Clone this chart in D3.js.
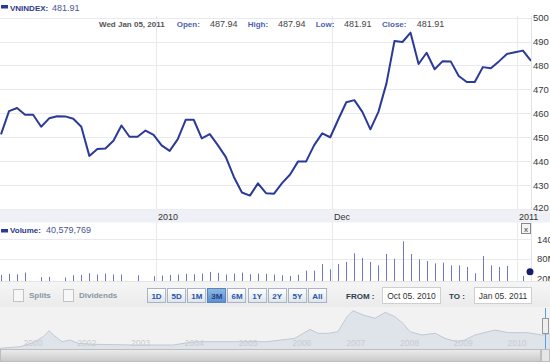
<!DOCTYPE html>
<html><head><meta charset="utf-8">
<script src="https://cdn.jsdelivr.net/npm/d3@7"></script>
<style>
body{margin:0;background:#fff;overflow:hidden;}
svg{display:block;font-family:"Liberation Sans",Arial,sans-serif;}
</style>
</head><body><svg id="c" width="550" height="364"></svg>
<script>
// ---------------- DATA ----------------
const symbol = "VNINDEX";
const lastDate = "Wed Jan 05, 2011";
const quote = {open: "487.94", high: "487.94", low: "481.91", close: "481.91"};
const volumeText = "40,579,769";
// daily closes, Oct 05 2010 .. Jan 05 2011 (67 sessions)
const closes = [451.2,460.9,462.2,459.4,459.4,454.4,457.9,458.8,458.7,457.7,
  454.4,442.2,445.1,445.3,448.5,454.9,450.2,450.2,452.8,451.0,
  446.6,444.3,449.1,457.3,457.3,449.5,451.3,446.7,441.7,433.4,
  426.9,425.6,430.7,426.6,426.4,430.8,434.4,439.9,439.9,446.7,
  451.6,450.0,457.4,464.6,465.5,460.6,453.3,460.6,472.5,490.2,
  489.8,493.7,480.6,485.3,478.4,481.8,481.7,475.6,473.1,473.1,
  479.3,478.8,481.7,484.8,485.5,486.2,481.91];
// daily volume, millions of shares
const volumes = [31,34,33,38,0,24,25,0,23,30,
  31,36,32,35,32,32,0,30,0,27,
  29,31,32,34,33,35,40,37,32,35,
  38,33,35,34,32,30,27.6,31.5,43.7,43.7,
  64,48,64,70,96.6,82.3,70,60,94.5,80,
  133,94.5,78.4,73,66,68,60,60,55,35.8,
  88.4,60,55,58,0,27.6,40.58];
const xTickIndex = [19, 41, 64];
const xTickLabels = ["2010", "Dec", "2011"];
const priceTicks = [420,430,440,450,460,470,480,490,500];
const volTicks = [20, 80, 140];
const volTickLabels = ["20M", "80M", "140M"];
// navigator (full history)
const navYears = [2000.39,2000.76,2001.0,2001.19,2001.30,2001.38,2001.54,2001.69,2001.84,2002.12,
  2002.86,2003.61,2003.87,2004.11,2004.72,2005.35,2005.50,2005.87,2006.15,2006.30,
  2006.49,2006.67,2006.84,2006.95,2007.14,2007.36,2007.55,2007.73,2007.88,2008.01,
  2008.23,2008.48,2008.66,2008.88,2009.03,2009.22,2009.59,2009.84,2010.20,2010.46,2010.62];
const navValues = [50,96,213,389,565,439,243,293,196,167,
  146,146,213,243,243,243,272,342,605,488,
  488,536,975,1150,1024,927,1103,975,780,536,
  439,488,342,243,293,439,585,507,507,439,470];
const navTickYears = [2001,2002,2003,2004,2005,2006,2007,2008,2009,2010];
const navTickLabels = ["2000","2002","2003","2004","2005","2006","2007","2008","2009","2010"];
const rangeButtons = ["1D","5D","1M","3M","6M","1Y","2Y","5Y","All"];
const selectedRange = "3M";
const fromDate = "Oct 05. 2010";
const toDate = "Jan 05. 2011";

// ---------------- DRAW ----------------
const svg = d3.select("#c");
const W = 550;
const plotR = 531;
const x = d3.scaleLinear().domain([0, closes.length - 1]).range([1, plotR]);
const y = d3.scaleLinear().domain([420, 500]).range([209, 17.6]);
const yv = d3.scaleLinear().domain([20, 140]).range([278.5, 239]);
const lineBlue = "#2b3a98";
const gridC = "#e9eaf0";

const defs = svg.append("defs");
defs.append("clipPath").attr("id","pc").append("rect").attr("x",0).attr("y",10).attr("width",plotR).attr("height",199);
defs.append("clipPath").attr("id","vc").append("rect").attr("x",0).attr("y",236).attr("width",plotR+1).attr("height",45);
defs.append("clipPath").attr("id","nc").append("rect").attr("x",0).attr("y",307).attr("width",W).attr("height",42);
function grad(id, c0, c1) {
  const g = defs.append("linearGradient").attr("id",id).attr("x1",0).attr("y1",0).attr("x2",0).attr("y2",1);
  g.append("stop").attr("offset","0").attr("stop-color",c0);
  g.append("stop").attr("offset","1").attr("stop-color",c1);
}
grad("btn", "#ffffff", "#dfe3ea");
grad("btnSel", "#8fb8e6", "#5b8fd0");
grad("scr", "#ececec", "#c9c9c9");
grad("ctl", "#f6f6f6", "#ebebeb");

// price grid
svg.append("g").selectAll("line").data(priceTicks).join("line")
  .attr("x1", 0).attr("x2", plotR).attr("y1", d => Math.round(y(d))+0.5).attr("y2", d => Math.round(y(d))+0.5)
  .attr("stroke", gridC).attr("stroke-width", 1);
svg.append("g").selectAll("line").data(xTickIndex).join("line")
  .attr("x1", d => Math.round(x(d+0.28))+0.5).attr("x2", d => Math.round(x(d+0.28))+0.5)
  .attr("y1", 16).attr("y2", 281).attr("stroke", gridC);
svg.append("line").attr("x1",plotR+0.5).attr("x2",plotR+0.5).attr("y1",16).attr("y2",281).attr("stroke","#e2e3ea");

// header
svg.append("rect").attr("x",1).attr("y",5).attr("width",7).attr("height",3.5).attr("fill",lineBlue);
svg.append("text").attr("x",10).attr("y",10.5).text(symbol + ":").attr("font-size",8).attr("font-weight","bold").attr("fill","#2b3a8a");
svg.append("text").attr("x",52).attr("y",10.5).text(closes[closes.length-1].toFixed(2)).attr("font-size",9).attr("fill","#4a5590");

const row = svg.append("g").attr("font-size", 8);
row.append("text").attr("x",99).attr("y",26.5).text(lastDate).attr("font-weight","bold").attr("fill","#555");
const fields = [["Open:", quote.open, 176.7, 210], ["High:", quote.high, 247.7, 278], ["Low:", quote.low, 315.7, 344], ["Close:", quote.close, 382, 416.7]];
fields.forEach(f => {
  row.append("text").attr("x",f[2]).attr("y",26.5).text(f[0]).attr("font-weight","bold").attr("fill","#4d5fb0");
  row.append("text").attr("x",f[3]).attr("y",26.5).text(f[1]).attr("font-size",9).attr("fill","#444");
});

// price line
svg.append("path").datum(closes).attr("clip-path","url(#pc)")
  .attr("d", d3.line().x((d,i) => x(i)).y(d => y(d)))
  .attr("fill","none").attr("stroke",lineBlue).attr("stroke-width",2).attr("stroke-linejoin","round");

// x axis band
svg.append("rect").attr("x",0).attr("y",209.5).attr("width",W).attr("height",13).attr("fill","#eef0f5");
svg.append("g").selectAll("text").data(xTickIndex).join("text")
  .attr("x", d => Math.round(x(d+0.28)) + 2).attr("y", 219.5).text((d,i) => xTickLabels[i])
  .attr("font-size", 9).attr("fill", "#333");

// price axis labels (right), drawn above the band
svg.append("g").selectAll("text").data(priceTicks).join("text")
  .attr("x", 533).attr("y", d => Math.min(y(d) + 3.5, 211)).text(d => d)
  .attr("font-size", 9.5).attr("fill", "#3a3a3a");

// volume header
svg.append("rect").attr("x",1).attr("y",229).attr("width",7).attr("height",3.5).attr("fill",lineBlue);
svg.append("text").attr("x",10).attr("y",232.5).text("Volume:").attr("font-size",8).attr("font-weight","bold").attr("fill","#2b3a8a");
svg.append("text").attr("x",46).attr("y",232.5).text(volumeText).attr("font-size",9).attr("fill","#4a5590");
// close box
svg.append("rect").attr("x",521.5).attr("y",223.5).attr("width",9).attr("height",10).attr("fill","#f4f4f4").attr("stroke","#888");
svg.append("text").attr("x",526).attr("y",231.5).attr("text-anchor","middle").text("x").attr("font-size",8).attr("fill","#333");

// volume grid
svg.append("g").selectAll("line").data(volTicks.slice(1)).join("line")
  .attr("x1",0).attr("x2",plotR).attr("y1", d => Math.round(yv(d))+0.5).attr("y2", d => Math.round(yv(d))+0.5)
  .attr("stroke", gridC);
svg.append("g").selectAll("text").data(volTicks).join("text")
  .attr("x",537).attr("y", d => yv(d)+3.5).text((d,i) => volTickLabels[i]).attr("font-size",9.5).attr("fill","#3a3a3a");
// volume bars
svg.append("g").attr("clip-path","url(#vc)").selectAll("line").data(volumes.map((v,i)=>[i,v]).filter(d => d[1] > 0 && d[0] < volumes.length-1)).join("line")
  .attr("x1", d => Math.round(x(d[0]))+0.5).attr("x2", d => Math.round(x(d[0]))+0.5)
  .attr("y1", 281).attr("y2", d => yv(d[1])).attr("stroke","#6e76c6").attr("stroke-width",1);
svg.append("circle").attr("cx", x(volumes.length-1)-1).attr("cy", yv(volumes[volumes.length-1])).attr("r",3.5).attr("fill","#161d6b");

// controls
svg.append("rect").attr("x",0).attr("y",281).attr("width",W).attr("height",26).attr("fill","url(#ctl)");
svg.append("line").attr("x1",0).attr("x2",W).attr("y1",281.5).attr("y2",281.5).attr("stroke","#e4e4e4");
[["Splits",13,29],["Dividends",63,79]].forEach(c => {
  svg.append("rect").attr("x",c[1]+0.5).attr("y",289.5).attr("width",10).attr("height",12).attr("fill","#f7f7f7").attr("stroke","#c3c3c3");
  svg.append("text").attr("x",c[2]).attr("y",298).text(c[0]).attr("font-size",8).attr("font-weight","bold").attr("fill","#8796a3");
});
const bx = d3.scaleBand().domain(rangeButtons).range([147, 326]).paddingInner(0.1);
const btn = svg.append("g").selectAll("g").data(rangeButtons).join("g");
btn.append("rect").attr("x", d => Math.round(bx(d))+0.5).attr("y",288.5).attr("width", bx.bandwidth()).attr("height",14)
  .attr("fill", d => d === selectedRange ? "url(#btnSel)" : "url(#btn)")
  .attr("stroke", d => d === selectedRange ? "#5a82b8" : "#a9b3c4");
btn.append("text").attr("x", d => bx(d) + bx.bandwidth()/2 + 0.5).attr("y",298.5).attr("text-anchor","middle")
  .text(d => d).attr("font-size",8).attr("font-weight","bold").attr("fill", d => d === selectedRange ? "#1f3f80" : "#2457a8");
svg.append("text").attr("x",346).attr("y",298.5).text("FROM :").attr("font-size",8).attr("font-weight","bold").attr("fill","#2c3e50");
svg.append("rect").attr("x",382.5).attr("y",287.5).attr("width",58).attr("height",16).attr("fill","#fff").attr("stroke","#cfcfcf");
svg.append("text").attr("x",411.5).attr("y",298.5).attr("text-anchor","middle").text(fromDate).attr("font-size",8.5).attr("fill","#333");
svg.append("text").attr("x",449).attr("y",298.5).text("TO :").attr("font-size",8).attr("font-weight","bold").attr("fill","#2c3e50");
svg.append("rect").attr("x",474.5).attr("y",287.5).attr("width",57).attr("height",16).attr("fill","#fff").attr("stroke","#cfcfcf");
svg.append("text").attr("x",503).attr("y",298.5).attr("text-anchor","middle").text(toDate).attr("font-size",8.5).attr("fill","#333");

// navigator
svg.append("rect").attr("x",0).attr("y",307).attr("width",W).attr("height",42).attr("fill","#f2f2f2");
const nx = d3.scaleLinear().domain([2001, 2010]).range([33, 517]);
const ny = d3.scaleLinear().domain([0, 1200]).range([350, 309]);
svg.append("path").datum(navValues).attr("clip-path","url(#nc)")
  .attr("d", d3.area().x((d,i) => nx(navYears[i])).y0(350).y1(d => ny(d)))
  .attr("fill","#dfe3ea").attr("stroke","#c2c9d4").attr("stroke-width",1);
svg.append("g").selectAll("text").data(navTickYears).join("text")
  .attr("x", d => nx(d)).attr("y",345.5).attr("text-anchor","middle").text((d,i) => navTickLabels[i])
  .attr("font-size",8.5).attr("fill","#c9ccd1");
svg.append("line").attr("x1",545.5).attr("x2",545.5).attr("y1",308).attr("y2",349).attr("stroke","#5aa0e0").attr("stroke-width",1);
svg.append("rect").attr("x",542.5).attr("y",318.5).attr("width",6).attr("height",15).attr("fill","#eee").attr("stroke","#999");
// scrollbar
svg.append("rect").attr("x",0.5).attr("y",349.5).attr("width",540).attr("height",12).attr("fill","url(#scr)").attr("stroke","#bdbdbd");
svg.append("rect").attr("x",541.5).attr("y",349.5).attr("width",8).attr("height",12).attr("fill","#e6e6e6").attr("stroke","#bdbdbd");
</script>
</body></html>
